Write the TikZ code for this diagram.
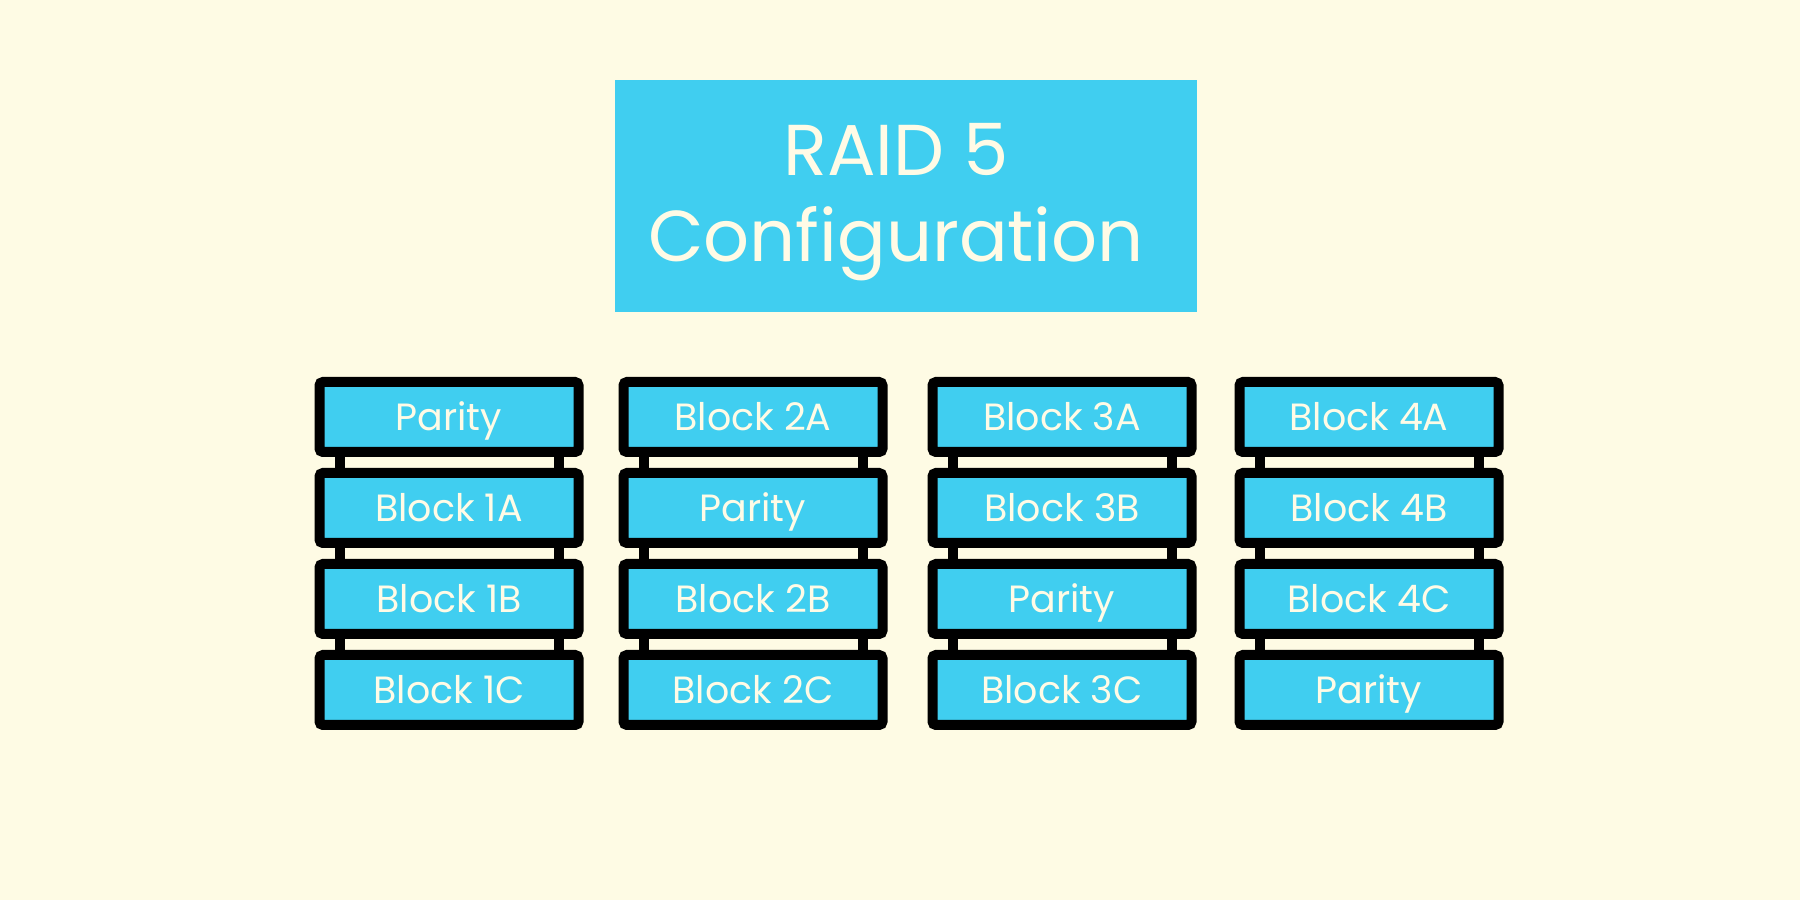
\documentclass[tikz,border=0pt]{standalone}
\usepackage{fontspec}
\setmainfont{Poppins}
\usepackage{tikz}
\usetikzlibrary{positioning,calc}
\definecolor{raidblue}{HTML}{40CEF0}
\definecolor{raidcream}{HTML}{FEFBE4}
\definecolor{raidtext}{HTML}{FFFBE6}
\tikzset{
  % disk blocks
  blk/.style={rectangle,draw=black,fill=raidblue,line width=1mm,rounded corners=1pt,
              minimum width=2.59cm,minimum height=0.70cm,inner sep=0pt,
              text height=7.4pt,text depth=0pt,
              text=raidtext,font=\fontsize{10.8}{12}\selectfont},
  bar/.style={draw=black,line width=1mm,shorten <=-0.5pt,shorten >=-0.5pt},
  % title
  ttlbox/.style={rectangle,fill=raidblue,minimum width=5.82cm,minimum height=2.32cm,
                 inner sep=0pt},
  ttl/.style={inner sep=0pt,align=center,text=raidtext,
              font=\fontsize{20.5}{24.5}\selectfont},
}
\begin{document}
\begin{tikzpicture}
\fill[raidcream] (0,0) rectangle (18,9);
\useasboundingbox (0,0) rectangle (18,9);
  \node[ttlbox] (title) at (9.06,7.04) {};
  \node[ttl] (titletext) at ([xshift=-1mm,yshift=-0.6mm]title.center) {RAID 5\\Configuration};
  % disk 1
  \node[blk] (a1) at (4.49,4.83) {Parity};
  \node[blk] (a2) at (4.49,3.92) {Block 1A};
  \node[blk] (a3) at (4.49,3.01) {Block 1B};
  \node[blk] (a4) at (4.49,2.10) {Block 1C};
  % disk 2
  \node[blk] (b1) at (7.53,4.83) {Block 2A};
  \node[blk] (b2) at (7.53,3.92) {Parity};
  \node[blk] (b3) at (7.53,3.01) {Block 2B};
  \node[blk] (b4) at (7.53,2.10) {Block 2C};
  % disk 3
  \node[blk] (c1) at (10.62,4.83) {Block 3A};
  \node[blk] (c2) at (10.62,3.92) {Block 3B};
  \node[blk] (c3) at (10.62,3.01) {Parity};
  \node[blk] (c4) at (10.62,2.10) {Block 3C};
  % disk 4
  \node[blk] (d1) at (13.69,4.83) {Block 4A};
  \node[blk] (d2) at (13.69,3.92) {Block 4B};
  \node[blk] (d3) at (13.69,3.01) {Block 4C};
  \node[blk] (d4) at (13.69,2.10) {Parity};
  % links between blocks
  \draw[bar] ([xshift=2.5mm]a1.south west) -- ([xshift=2.5mm]a2.north west) ([xshift=-2.5mm]a1.south east) -- ([xshift=-2.5mm]a2.north east);
  \draw[bar] ([xshift=2.5mm]a2.south west) -- ([xshift=2.5mm]a3.north west) ([xshift=-2.5mm]a2.south east) -- ([xshift=-2.5mm]a3.north east);
  \draw[bar] ([xshift=2.5mm]a3.south west) -- ([xshift=2.5mm]a4.north west) ([xshift=-2.5mm]a3.south east) -- ([xshift=-2.5mm]a4.north east);
  \draw[bar] ([xshift=2.5mm]b1.south west) -- ([xshift=2.5mm]b2.north west) ([xshift=-2.5mm]b1.south east) -- ([xshift=-2.5mm]b2.north east);
  \draw[bar] ([xshift=2.5mm]b2.south west) -- ([xshift=2.5mm]b3.north west) ([xshift=-2.5mm]b2.south east) -- ([xshift=-2.5mm]b3.north east);
  \draw[bar] ([xshift=2.5mm]b3.south west) -- ([xshift=2.5mm]b4.north west) ([xshift=-2.5mm]b3.south east) -- ([xshift=-2.5mm]b4.north east);
  \draw[bar] ([xshift=2.5mm]c1.south west) -- ([xshift=2.5mm]c2.north west) ([xshift=-2.5mm]c1.south east) -- ([xshift=-2.5mm]c2.north east);
  \draw[bar] ([xshift=2.5mm]c2.south west) -- ([xshift=2.5mm]c3.north west) ([xshift=-2.5mm]c2.south east) -- ([xshift=-2.5mm]c3.north east);
  \draw[bar] ([xshift=2.5mm]c3.south west) -- ([xshift=2.5mm]c4.north west) ([xshift=-2.5mm]c3.south east) -- ([xshift=-2.5mm]c4.north east);
  \draw[bar] ([xshift=2.5mm]d1.south west) -- ([xshift=2.5mm]d2.north west) ([xshift=-2.5mm]d1.south east) -- ([xshift=-2.5mm]d2.north east);
  \draw[bar] ([xshift=2.5mm]d2.south west) -- ([xshift=2.5mm]d3.north west) ([xshift=-2.5mm]d2.south east) -- ([xshift=-2.5mm]d3.north east);
  \draw[bar] ([xshift=2.5mm]d3.south west) -- ([xshift=2.5mm]d4.north west) ([xshift=-2.5mm]d3.south east) -- ([xshift=-2.5mm]d4.north east);
\end{tikzpicture}
\end{document}
